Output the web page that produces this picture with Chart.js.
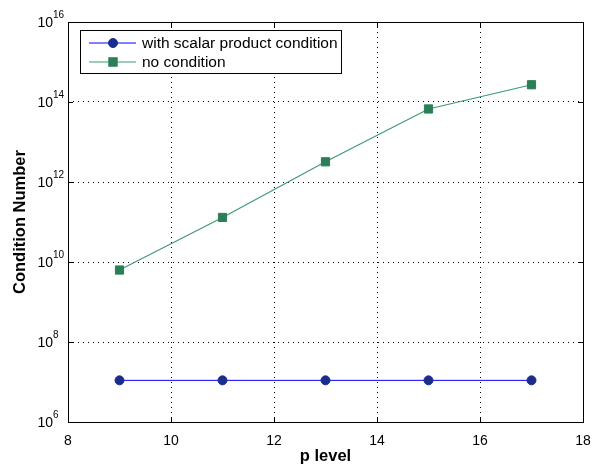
<!DOCTYPE html>
<html>
<head>
<meta charset="utf-8">
<script src="https://cdn.jsdelivr.net/npm/chart.js@4/dist/chart.umd.min.js"></script>
<style>
  html, body { margin: 0; padding: 0; background: #fff; }
  #wrap { width: 592px; height: 464px; }
</style>
</head>
<body>
<div id="wrap"><canvas id="cond-chart" width="592" height="464"></canvas></div>
<script>
// values
var pLevels = [9, 11, 13, 15, 17];
var withScalar = [1.1e7, 1.1e7, 1.1e7, 1.1e7, 1.1e7];
var noCondition = [6.3e9, 1.3e11, 3.2e12, 6.7e13, 2.7e14];
var seriesNames = ["with scalar product condition", "no condition"];
var xTicks = [8, 10, 12, 14, 16, 18];
var yTicks = [1e6, 1e8, 1e10, 1e12, 1e14, 1e16];

var FONT = "'Liberation Sans', Arial, sans-serif";

function toPoints(xs, ys) {
    return xs.map(function (x, i) { return {x: x, y: ys[i]}; });
}

// box round the plot, inward tick marks, 10^n labels and the framed legend
var matlabLook = {
    id: 'matlabLook',
    afterDraw: function (chart) {
        var ctx = chart.ctx;
        var a = chart.chartArea;
        var xs = chart.scales.x, ys = chart.scales.y;
        ctx.save();
        ctx.strokeStyle = '#000';
        ctx.lineWidth = 1;
        ctx.strokeRect(Math.round(a.left) + 0.5, Math.round(a.top) + 0.5,
            Math.round(a.right - a.left), Math.round(a.bottom - a.top));

        ctx.beginPath();
        xTicks.forEach(function (t) {
            var px = Math.round(xs.getPixelForValue(t)) + 0.5;
            ctx.moveTo(px, a.bottom); ctx.lineTo(px, a.bottom - 5);
            ctx.moveTo(px, a.top); ctx.lineTo(px, a.top + 5);
        });
        yTicks.forEach(function (t) {
            var py = Math.round(ys.getPixelForValue(t)) + 0.5;
            ctx.moveTo(a.left, py); ctx.lineTo(a.left + 5, py);
            ctx.moveTo(a.right, py); ctx.lineTo(a.right - 5, py);
        });
        ctx.stroke();

        // y tick labels as 10 with superscript exponent
        ctx.fillStyle = '#000';
        ctx.textBaseline = 'middle';
        yTicks.forEach(function (t) {
            var py = ys.getPixelForValue(t);
            var e = Math.round(Math.log10(t));
            ctx.font = '14px ' + FONT;
            ctx.textAlign = 'right';
            ctx.fillText('10', 53, py + 1);
            ctx.font = '10px ' + FONT;
            ctx.textAlign = 'left';
            ctx.fillText(String(e), 53, py - 7);
        });

        // legend
        var lx = 80, ly = 30, lw = 261, lh = 43;
        ctx.fillStyle = '#fff';
        ctx.fillRect(lx, ly, lw, lh);
        ctx.strokeStyle = '#000';
        ctx.lineWidth = 1;
        ctx.strokeRect(lx + 0.5, ly + 0.5, lw, lh);
        chart.data.datasets.forEach(function (ds, i) {
            var cy = ly + 13 + i * 19;
            ctx.strokeStyle = ds.borderColor;
            ctx.lineWidth = ds.borderWidth;
            ctx.beginPath();
            ctx.moveTo(lx + 9, cy); ctx.lineTo(lx + 56, cy);
            ctx.stroke();
            ctx.fillStyle = ds.pointBackgroundColor;
            ctx.strokeStyle = ds.pointBorderColor;
            Chart.helpers.drawPoint(ctx, {
                pointStyle: ds.pointStyle, radius: ds.pointRadius, borderWidth: 1
            }, lx + 33, cy);
            ctx.fillStyle = '#000';
            ctx.font = '15.5px ' + FONT;
            ctx.textAlign = 'left';
            ctx.textBaseline = 'middle';
            ctx.fillText(ds.label, lx + 62, cy + 1);
        });
        ctx.restore();
    }
};

new Chart(document.getElementById('cond-chart'), {
    type: 'line',
    data: {
        datasets: [
            {
                label: seriesNames[0],
                data: toPoints(pLevels, withScalar),
                borderColor: '#0000ff',
                borderWidth: 1,
                pointStyle: 'circle',
                pointRadius: 4.5,
                pointBackgroundColor: '#1b2d8c',
                pointBorderColor: '#1b2d8c',
                pointBorderWidth: 1
            },
            {
                label: seriesNames[1],
                data: toPoints(pLevels, noCondition),
                borderColor: '#3f9a72',
                borderWidth: 1.2,
                pointStyle: 'rect',
                pointRadius: 5.8,
                pointBackgroundColor: '#2a7f57',
                pointBorderColor: '#2a7f57',
                pointBorderWidth: 1
            }
        ]
    },
    options: {
        responsive: false,
        animation: false,
        layout: { padding: { left: 0, top: 22, right: 9, bottom: 0 } },
        plugins: { legend: { display: false }, tooltip: { enabled: false } },
        scales: {
            x: {
                type: 'linear',
                min: 8, max: 18,
                afterBuildTicks: function (scale) {
                    scale.ticks = xTicks.map(function (v) { return {value: v}; });
                },
                afterFit: function (scale) {
                    scale.height = 42;
                    scale.paddingLeft = 0;
                    scale.paddingRight = 0;
                },
                grid: { color: '#000', drawTicks: false, lineWidth: 1 },
                border: { display: false, dash: [1, 4] },
                ticks: { color: '#000', font: { family: FONT, size: 14 }, padding: 11, maxRotation: 0 },
                title: {
                    display: true, text: 'p level', color: '#000',
                    font: { family: FONT, size: 16.5, weight: 'bold', lineHeight: 1 },
                    padding: { top: 0, bottom: -1 }
                }
            },
            y: {
                type: 'logarithmic',
                min: 1e6, max: 1e16,
                afterBuildTicks: function (scale) {
                    scale.ticks = yTicks.map(function (v) { return {value: v}; });
                },
                afterFit: function (scale) { scale.width = 68; },
                grid: { color: '#000', drawTicks: false, lineWidth: 1 },
                border: { display: false, dash: [1, 4] },
                ticks: { display: false },
                title: {
                    display: true, text: 'Condition Number', color: '#000',
                    font: { family: FONT, size: 16.5, weight: 'bold', lineHeight: 1 },
                    padding: { top: 12, bottom: 0 }
                }
            }
        }
    },
    plugins: [matlabLook]
});
</script>
</body>
</html>
